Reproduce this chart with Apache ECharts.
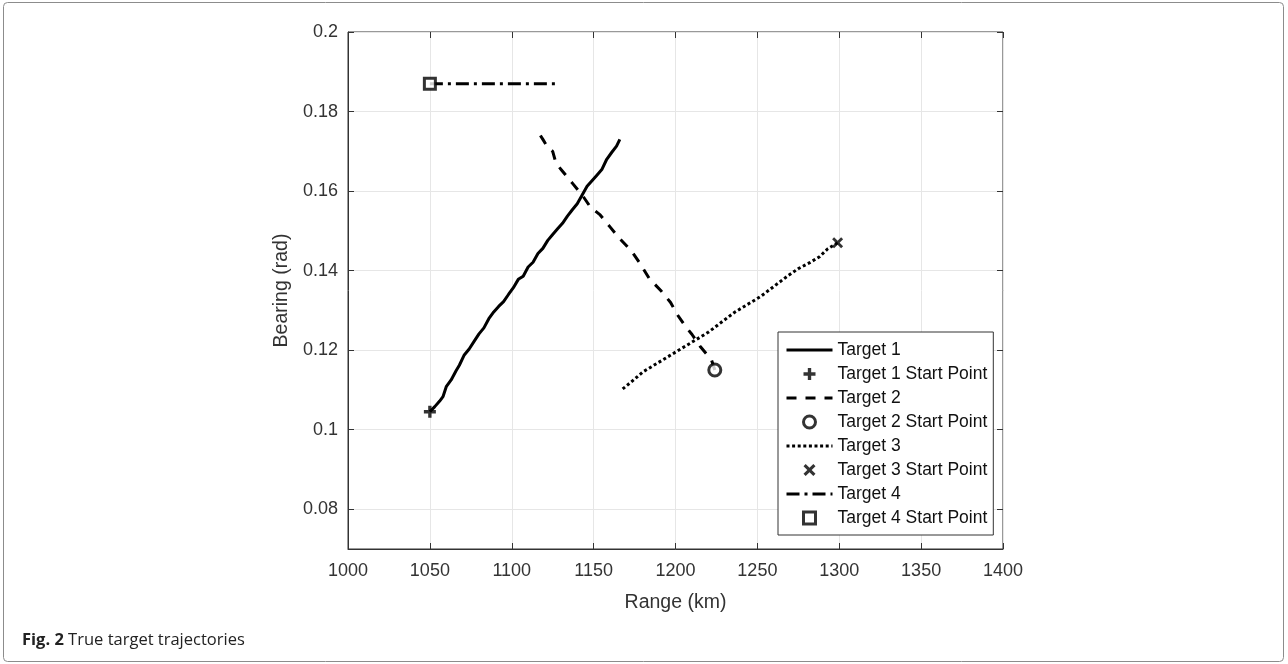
<!DOCTYPE html>
<html><head><meta charset="utf-8">
<script src="https://cdn.jsdelivr.net/npm/echarts@6/dist/echarts.min.js"></script>
<style>html,body{margin:0;padding:0;background:#fff}#c{width:1288px;height:664px}</style>
</head><body><div id="c"></div>
<script>
// ---- data ----
const yTickValues = [0.08, 0.1, 0.12, 0.14, 0.16, 0.18, 0.2];
const seriesNames = ['Target 1', 'Target 1 Start Point', 'Target 2', 'Target 2 Start Point',
                     'Target 3', 'Target 3 Start Point', 'Target 4', 'Target 4 Start Point'];
const target1Range = [1050,1053,1056,1058,1060,1063,1066,1068,1071,1074,1077,1080,1083,1086,1089,1092,1095,1098,1101,1104,1107,1110,1113,1116,1119,1122,1125,1128,1131,1134,1137,1140,1143,1146,1149,1152,1155,1158,1161,1164,1166];
const target1Bearing = [0.1045,0.1058,0.1072,0.1083,0.1108,0.1125,0.1148,0.1162,0.1188,0.1203,0.1222,0.1241,0.1256,0.1279,0.1296,0.1310,0.1322,0.1340,0.1357,0.1378,0.1386,0.1409,0.1421,0.1443,0.1456,0.1476,0.1491,0.1505,0.1519,0.1537,0.1553,0.1568,0.1590,0.1612,0.1626,0.1640,0.1654,0.1680,0.1697,0.1713,0.1730];
const target2Range = [1224,1222,1219,1215,1210,1206,1201,1197,1191,1184,1178,1173,1166,1160,1154,1148,1143,1137,1131,1127,1125,1122,1119,1116];
const target2Bearing = [0.115,0.1175,0.119,0.121,0.124,0.126,0.129,0.132,0.135,0.138,0.142,0.145,0.148,0.151,0.154,0.156,0.159,0.162,0.165,0.167,0.170,0.171,0.173,0.175];
const target3Range = [1299,1293,1288,1282,1275,1268,1260,1252,1244,1236,1228,1220,1212,1204,1196,1188,1180,1173,1167];
const target3Bearing = [0.147,0.1455,0.1435,0.142,0.1405,0.1385,0.136,0.1335,0.1315,0.1295,0.127,0.1245,0.1225,0.1205,0.1185,0.1165,0.1145,0.112,0.110];
const target4Range = [1050,1070,1090,1110,1128];
const target4Bearing = [0.187,0.187,0.187,0.187,0.187];
const startRange = [1050, 1224, 1299, 1050];
const startBearing = [0.1045, 0.115, 0.147, 0.187];

// ---- chart ----
const FONT = 'Liberation Sans, Arial, Helvetica, sans-serif';
const zip = (a, b) => a.map((v, i) => [v, b[i]]);
const PLUS = 'path://M36,0H64V36H100V64H64V100H36V64H0V36H36Z';
const CROSS = 'path://M0,18L18,0L50,32L82,0L100,18L68,50L100,82L82,100L50,68L18,100L0,82L32,50Z';
const SQUARE = 'path://M0,0H100V100H0Z';
const LW = 3;

function lineSeries(name, xs, ys, type) {
  return { name, type: 'line', data: zip(xs, ys), symbol: 'none', z: 3,
    lineStyle: { color: '#000', width: LW, type: type, cap: 'butt' },
    itemStyle: { color: '#000' }, animation: false };
}
function markSeries(name, i, symbol, size, hollow) {
  return { name, type: 'scatter', data: [[startRange[i], startBearing[i]]], symbol, symbolSize: size, z: 5,
    itemStyle: hollow ? { color: '#fff', borderColor: '#000', borderWidth: 3 } : { color: '#000' },
    animation: false };
}
const solidIcon = { color: '#000', borderWidth: 0 };
const hollowIcon = { color: '#fff', borderColor: '#000', borderWidth: 3 };
const lineOnly = { color: 'rgba(0,0,0,0)', borderWidth: 0, opacity: 0 };
const legendLine = { width: LW, color: '#000' };

const axisText = { color: '#333', fontFamily: FONT, fontSize: 18 };
const option = {
  animation: false,
  backgroundColor: '#fff',
  grid: { left: 348, top: 32, width: 655, height: 517, show: true, borderColor: '#333', borderWidth: 1, backgroundColor: 'transparent' },
  xAxis: [
    { type: 'value', min: 1000, max: 1400, interval: 50, position: 'bottom',
      name: 'Range (km)', nameLocation: 'middle', nameGap: 44,
      nameTextStyle: { color: '#333', fontFamily: FONT, fontSize: 19.5 },
      axisLine: { show: true, lineStyle: { color: '#333', width: 1 } },
      axisTick: { show: true, inside: true, length: 6, lineStyle: { color: '#333' } },
      axisLabel: Object.assign({ margin: 13, formatter: v => String(v) }, axisText),
      splitLine: { show: true, lineStyle: { color: '#e6e6e6', width: 1 } } },
    { type: 'value', min: 1000, max: 1400, interval: 50, position: 'top',
      axisLine: { show: false }, axisTick: { show: true, inside: true, length: 6, lineStyle: { color: '#333' } },
      axisLabel: { show: false }, splitLine: { show: false } }
  ],
  yAxis: [
    { type: 'value', min: 0.07, max: 0.2, position: 'left',
      name: 'Bearing (rad)', nameLocation: 'middle', nameGap: 55,
      nameTextStyle: { color: '#333', fontFamily: FONT, fontSize: 19.5 },
      axisLine: { show: true, lineStyle: { color: '#333', width: 1 } },
      axisTick: { show: true, inside: true, length: 6, lineStyle: { color: '#333' }, customValues: yTickValues },
      axisLabel: Object.assign({ margin: 10, customValues: yTickValues }, axisText),
      splitLine: { show: true, lineStyle: { color: '#e6e6e6', width: 1 } } },
    { type: 'value', min: 0.07, max: 0.2, position: 'right',
      axisLine: { show: false },
      axisTick: { show: true, inside: true, length: 6, lineStyle: { color: '#333' }, customValues: yTickValues },
      axisLabel: { show: false }, splitLine: { show: false } }
  ],
  legend: {
    orient: 'vertical', left: 778, top: 332,
    padding: [9, 6, 8, 7], itemGap: 6, itemWidth: 46, itemHeight: 12,
    backgroundColor: '#fff', borderColor: '#333', borderWidth: 1, borderRadius: 0,
    textStyle: { color: '#111', fontFamily: FONT, fontSize: 17.5, lineHeight: 17 },
    data: [
      { name: seriesNames[0], itemStyle: lineOnly, lineStyle: legendLine },
      { name: seriesNames[1], icon: PLUS, itemStyle: solidIcon },
      { name: seriesNames[2], itemStyle: lineOnly, lineStyle: legendLine },
      { name: seriesNames[3], icon: 'circle', itemStyle: hollowIcon },
      { name: seriesNames[4], itemStyle: lineOnly, lineStyle: legendLine },
      { name: seriesNames[5], icon: CROSS, itemStyle: solidIcon },
      { name: seriesNames[6], itemStyle: lineOnly, lineStyle: legendLine },
      { name: seriesNames[7], icon: SQUARE, itemStyle: hollowIcon }
    ]
  },
  series: [
    lineSeries(seriesNames[0], target1Range, target1Bearing, 'solid'),
    markSeries(seriesNames[1], 0, PLUS, 12, false),
    lineSeries(seriesNames[2], target2Range, target2Bearing, [10, 9]),
    markSeries(seriesNames[3], 1, 'circle', 12, true),
    lineSeries(seriesNames[4], target3Range, target3Bearing, [3, 2.6]),
    markSeries(seriesNames[5], 2, CROSS, 11, false),
    lineSeries(seriesNames[6], target4Range, target4Bearing, [13, 5, 3, 5]),
    markSeries(seriesNames[7], 3, SQUARE, 11, true)
  ],
  graphic: [
    { type: 'rect', silent: true, z: -10,
      shape: { x: 3.5, y: 2.5, width: 1280, height: 659, r: 4 },
      style: { fill: 'none', stroke: '#8c8c8c', lineWidth: 1 } },
    { type: 'text', left: 22, top: 632, silent: true,
      style: { text: '{b|Fig. 2} True target trajectories', fill: '#222',
        font: '16.5px "Open Sans", sans-serif',
        rich: { b: { fontWeight: 'bold', fontFamily: 'Open Sans', fontSize: 16.5, fill: '#222' } } } }
  ]
};
const chart = echarts.init(document.getElementById('c'), null, { renderer: 'canvas' });
chart.setOption(option);
</script>
</body></html>
